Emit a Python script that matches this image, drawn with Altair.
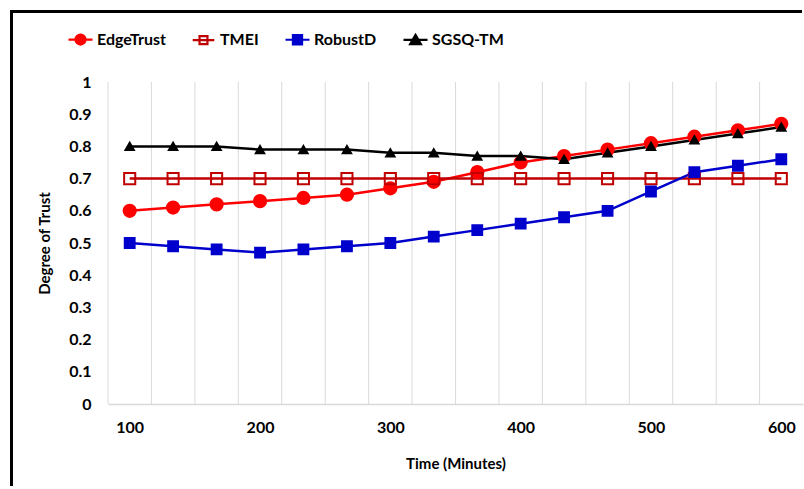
import altair as alt
import pandas as pd

# ---- data ----
times = [100, 133.3, 166.7, 200, 233.3, 266.7, 300, 333.3, 366.7, 400,
         433.3, 466.7, 500, 533.3, 566.7, 600]
time_labels = [100, 200, 300, 400, 500, 600]
trust_ticks = [0, 0.1, 0.2, 0.3, 0.4, 0.5, 0.6, 0.7, 0.8, 0.9, 1.0]
series_names = ["EdgeTrust", "TMEI", "RobustD", "SGSQ-TM"]

edgetrust = [0.60, 0.61, 0.62, 0.63, 0.64, 0.65, 0.67, 0.69, 0.72, 0.75,
             0.77, 0.79, 0.81, 0.83, 0.85, 0.87]
tmei = [0.70, 0.70, 0.70, 0.70, 0.70, 0.70, 0.70, 0.70, 0.70, 0.70,
        0.70, 0.70, 0.70, 0.70, 0.70, 0.70]
robustd = [0.50, 0.49, 0.48, 0.47, 0.48, 0.49, 0.50, 0.52, 0.54, 0.56,
           0.58, 0.60, 0.66, 0.72, 0.74, 0.76]
sgsq_tm = [0.80, 0.80, 0.80, 0.79, 0.79, 0.79, 0.78, 0.78, 0.77, 0.77,
           0.76, 0.78, 0.80, 0.82, 0.84, 0.86]

rows = []
for name, vals in zip(series_names, [edgetrust, tmei, robustd, sgsq_tm]):
    for t, v in zip(times, vals):
        rows.append({"time": t, "trust": v, "series": name})
df = pd.DataFrame(rows)

half = (times[1] - times[0]) / 2
grid_df = pd.DataFrame({"b": [t - half for t in times]})

# ---- styling ----
FONT = "Lato"
stroke_colors = ["#FF0000", "#C00000", "#0000CC", "#000000"]
fill_colors = ["#FF0000", "transparent", "#0000CC", "#000000"]
point_shapes = ["circle", "square", "square", "triangle-up"]
point_sizes = [150, 70, 90, 100]
legend_paths = [
    "M-1,0H1M0.42,0A0.42,0.42,0,1,1,-0.42,0A0.42,0.42,0,1,1,0.42,0Z",
    "M-0.9,0H0.9M-0.33,-0.33H0.33V0.33H-0.33Z",
    "M-1,0H1M-0.38,-0.38H0.38V0.38H-0.38Z",
    "M-1,0H1M0,-0.42L0.45,0.36H-0.45Z",
]

x_scale = alt.Scale(domain=[times[0] - half, times[-1] + half], nice=False, zero=False)
y_scale = alt.Scale(domain=[0, 1], nice=False, zero=True)

x_axis = alt.Axis(values=time_labels, format="d", grid=False, ticks=False,
                  domainColor="#D9D9D9", domainWidth=1.5,
                  labelFont=FONT, labelFontWeight="bold", labelFontSize=16,
                  labelColor="black", labelPadding=15, labelFlush=False,
                  labelOverlap=False,
                  title="Time (Minutes)", titleFont=FONT, titleFontWeight="bold",
                  titleFontSize=15, titleColor="black", titlePadding=21)
y_axis = alt.Axis(values=trust_ticks, format="~g", grid=False, ticks=False,
                  domain=False, labelFont=FONT, labelFontWeight="bold",
                  labelFontSize=16, labelColor="black", labelPadding=17,
                  labelFlush=False, labelOverlap=False,
                  title="Degree of Trust", titleFont=FONT, titleFontWeight="bold",
                  titleFontSize=15, titleColor="black", titlePadding=16)

X = alt.X("time:Q", scale=x_scale, axis=x_axis)
Y = alt.Y("trust:Q", scale=y_scale, axis=y_axis)

grid = alt.Chart(grid_df).mark_rule(color="#D9D9D9", strokeWidth=1).encode(
    x=alt.X("b:Q", scale=x_scale, axis=x_axis),
    y=alt.Y(datum=0, type="quantitative", scale=y_scale, axis=y_axis),
    y2=alt.Y2(datum=1),
)

lines = alt.Chart(df).mark_line(strokeWidth=2.5).encode(
    x=X, y=Y,
    stroke=alt.Stroke("series:N", scale=alt.Scale(domain=series_names, range=stroke_colors), legend=None),
)

points = alt.Chart(df).mark_point(opacity=1, strokeWidth=2).encode(
    x=X, y=Y,
    shape=alt.Shape("series:N", scale=alt.Scale(domain=series_names, range=point_shapes), legend=None),
    fill=alt.Fill("series:N", scale=alt.Scale(domain=series_names, range=fill_colors), legend=None),
    stroke=alt.Stroke("series:N", scale=alt.Scale(domain=series_names, range=stroke_colors), legend=None),
    size=alt.Size("series:N", scale=alt.Scale(domain=series_names, range=point_sizes), legend=None),
)

leg = alt.Legend(title=None, orient="none", direction="horizontal",
                 legendX=-41, legendY=-56, padding=0,
                 symbolSize=576, symbolStrokeWidth=2.2, columnPadding=22,
                 labelFont=FONT, labelFontWeight="bold", labelFontSize=16,
                 labelColor="black", labelOffset=3, symbolOpacity=1)

legend_layer = alt.Chart(df).transform_filter("false").mark_point(opacity=1, strokeWidth=2).encode(
    shape=alt.Shape("series:N", scale=alt.Scale(domain=series_names, range=legend_paths), legend=leg),
    fill=alt.Fill("series:N", scale=alt.Scale(domain=series_names, range=fill_colors), legend=leg),
    stroke=alt.Stroke("series:N", scale=alt.Scale(domain=series_names, range=stroke_colors), legend=leg),
)

frame_left = alt.Chart(alt.Data(values=[{}])).mark_rule(color="black", strokeWidth=3).encode(
    x=alt.value(-96.5), y=alt.value(-72), y2=alt.value(404))
frame_top = alt.Chart(alt.Data(values=[{}])).mark_rule(color="black", strokeWidth=3).encode(
    x=alt.value(-98), x2=alt.value(694), y=alt.value(-70.5))

chart = alt.layer(grid, lines, points, legend_layer, frame_left, frame_top).resolve_scale(
    shape="independent", fill="independent", stroke="independent", size="independent"
).properties(
    width=695, height=322,
    padding={"left": 8, "top": 8, "right": 0, "bottom": 0},
    background="white",
).configure_view(stroke=None)

chart.save("out.html", embed_options={"renderer": "svg", "actions": False})
